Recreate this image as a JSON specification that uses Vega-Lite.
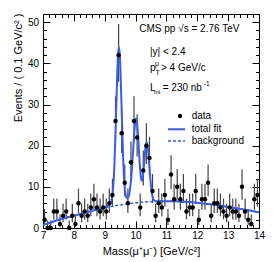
{
  "$schema": "https://vega.github.io/schema/vega-lite/v6.json",
  "width": 216,
  "height": 214,
  "autosize": {"type": "none"},
  "padding": {"left": 43, "top": 14, "right": 14, "bottom": 34},
  "background": "white",
  "config": {
    "view": {"stroke": "black", "strokeWidth": 1},
    "font": "Liberation Sans",
    "text": {"font": "Liberation Sans", "color": "black"},
    "axis": {"font": "Liberation Sans", "labelFont": "Liberation Sans", "titleFont": "Liberation Sans", "grid": false, "domain": false, "tickColor": "black", "tickWidth": 1, "labelColor": "black", "titleColor": "black", "labelFontSize": 10, "titleFontSize": 11, "titleFontWeight": "normal", "labelFlush": false, "labelOverlap": false}
  },
  "datasets": {
    "bins": [
      {"m": 7.05, "n": 2, "lo": 0.71, "hi": 4.64},
      {"m": 7.15, "n": 0, "lo": 0, "hi": 1.84},
      {"m": 7.25, "n": 0, "lo": 0, "hi": 1.84},
      {"m": 7.35, "n": 4, "lo": 2.09, "hi": 7.16},
      {"m": 7.45, "n": 4, "lo": 2.09, "hi": 7.16},
      {"m": 7.55, "n": 1, "lo": 0.17, "hi": 3.3},
      {"m": 7.65, "n": 3, "lo": 1.37, "hi": 5.92},
      {"m": 7.75, "n": 4, "lo": 2.09, "hi": 7.16},
      {"m": 7.85, "n": 0, "lo": 0, "hi": 1.84},
      {"m": 7.95, "n": 3, "lo": 1.37, "hi": 5.92},
      {"m": 8.05, "n": 1, "lo": 0.17, "hi": 3.3},
      {"m": 8.15, "n": 6, "lo": 3.62, "hi": 9.58},
      {"m": 8.25, "n": 3, "lo": 1.37, "hi": 5.92},
      {"m": 8.35, "n": 4, "lo": 2.09, "hi": 7.16},
      {"m": 8.45, "n": 3, "lo": 1.37, "hi": 5.92},
      {"m": 8.55, "n": 5, "lo": 2.84, "hi": 8.38},
      {"m": 8.65, "n": 7, "lo": 4.42, "hi": 10.77},
      {"m": 8.75, "n": 5, "lo": 2.84, "hi": 8.38},
      {"m": 8.85, "n": 4, "lo": 2.09, "hi": 7.16},
      {"m": 8.95, "n": 5, "lo": 2.84, "hi": 8.38},
      {"m": 9.05, "n": 4, "lo": 2.09, "hi": 7.16},
      {"m": 9.15, "n": 6, "lo": 3.62, "hi": 9.58},
      {"m": 9.25, "n": 8, "lo": 5.23, "hi": 11.95},
      {"m": 9.35, "n": 26, "lo": 20.95, "hi": 31.99},
      {"m": 9.45, "n": 42, "lo": 35.53, "hi": 49.6},
      {"m": 9.55, "n": 23, "lo": 18.25, "hi": 28.74},
      {"m": 9.65, "n": 11, "lo": 7.73, "hi": 15.42},
      {"m": 9.75, "n": 6, "lo": 3.62, "hi": 9.58},
      {"m": 9.85, "n": 16, "lo": 12.05, "hi": 21.04},
      {"m": 9.95, "n": 26, "lo": 20.95, "hi": 31.99},
      {"m": 10.05, "n": 22, "lo": 17.35, "hi": 27.65},
      {"m": 10.15, "n": 5, "lo": 2.84, "hi": 8.38},
      {"m": 10.25, "n": 14, "lo": 10.3, "hi": 18.81},
      {"m": 10.35, "n": 20, "lo": 15.57, "hi": 25.46},
      {"m": 10.45, "n": 17, "lo": 12.94, "hi": 22.14},
      {"m": 10.55, "n": 9, "lo": 6.06, "hi": 13.11},
      {"m": 10.65, "n": 3, "lo": 1.37, "hi": 5.92},
      {"m": 10.75, "n": 6, "lo": 3.62, "hi": 9.58},
      {"m": 10.85, "n": 5, "lo": 2.84, "hi": 8.38},
      {"m": 10.95, "n": 8, "lo": 5.23, "hi": 11.95},
      {"m": 11.05, "n": 2, "lo": 0.71, "hi": 4.64},
      {"m": 11.15, "n": 13, "lo": 9.44, "hi": 17.69},
      {"m": 11.25, "n": 7, "lo": 4.42, "hi": 10.77},
      {"m": 11.35, "n": 10, "lo": 6.89, "hi": 14.27},
      {"m": 11.45, "n": 7, "lo": 4.42, "hi": 10.77},
      {"m": 11.55, "n": 9, "lo": 6.06, "hi": 13.11},
      {"m": 11.65, "n": 4, "lo": 2.09, "hi": 7.16},
      {"m": 11.75, "n": 5, "lo": 2.84, "hi": 8.38},
      {"m": 11.85, "n": 5, "lo": 2.84, "hi": 8.38},
      {"m": 11.95, "n": 9, "lo": 6.06, "hi": 13.11},
      {"m": 12.05, "n": 2, "lo": 0.71, "hi": 4.64},
      {"m": 12.15, "n": 7, "lo": 4.42, "hi": 10.77},
      {"m": 12.25, "n": 7, "lo": 4.42, "hi": 10.77},
      {"m": 12.35, "n": 11, "lo": 7.73, "hi": 15.42},
      {"m": 12.45, "n": 3, "lo": 1.37, "hi": 5.92},
      {"m": 12.55, "n": 6, "lo": 3.62, "hi": 9.58},
      {"m": 12.65, "n": 6, "lo": 3.62, "hi": 9.58},
      {"m": 12.75, "n": 5, "lo": 2.84, "hi": 8.38},
      {"m": 12.85, "n": 4, "lo": 2.09, "hi": 7.16},
      {"m": 12.95, "n": 3, "lo": 1.37, "hi": 5.92},
      {"m": 13.05, "n": 5, "lo": 2.84, "hi": 8.38},
      {"m": 13.15, "n": 4, "lo": 2.09, "hi": 7.16},
      {"m": 13.25, "n": 4, "lo": 2.09, "hi": 7.16},
      {"m": 13.35, "n": 3, "lo": 1.37, "hi": 5.92},
      {"m": 13.45, "n": 10, "lo": 6.89, "hi": 14.27},
      {"m": 13.55, "n": 4, "lo": 2.09, "hi": 7.16},
      {"m": 13.65, "n": 2, "lo": 0.71, "hi": 4.64},
      {"m": 13.75, "n": 1, "lo": 0.17, "hi": 3.3},
      {"m": 13.85, "n": 7, "lo": 4.42, "hi": 10.77},
      {"m": 13.95, "n": 8, "lo": 5.23, "hi": 11.95}
    ],
    "fit": [
      {"m": 7.0, "y": 0.7}, {"m": 7.25, "y": 1.35}, {"m": 7.5, "y": 2.0}, {"m": 7.75, "y": 2.5},
      {"m": 8.0, "y": 3.0}, {"m": 8.25, "y": 3.5}, {"m": 8.5, "y": 4.0}, {"m": 8.75, "y": 4.5},
      {"m": 9.0, "y": 5.0}, {"m": 9.1, "y": 5.4}, {"m": 9.2, "y": 6.3}, {"m": 9.24, "y": 7.5},
      {"m": 9.28, "y": 10.5}, {"m": 9.32, "y": 16.6}, {"m": 9.36, "y": 25.7}, {"m": 9.4, "y": 36.0},
      {"m": 9.43, "y": 41.9}, {"m": 9.46, "y": 44.0}, {"m": 9.49, "y": 41.9}, {"m": 9.52, "y": 36.1},
      {"m": 9.56, "y": 25.9}, {"m": 9.6, "y": 16.6}, {"m": 9.64, "y": 10.5}, {"m": 9.68, "y": 8.0},
      {"m": 9.72, "y": 7.3}, {"m": 9.76, "y": 7.4}, {"m": 9.8, "y": 8.5}, {"m": 9.84, "y": 10.7},
      {"m": 9.88, "y": 14.2}, {"m": 9.92, "y": 18.8}, {"m": 9.96, "y": 23.3}, {"m": 10.0, "y": 26.2},
      {"m": 10.02, "y": 26.6}, {"m": 10.04, "y": 26.1}, {"m": 10.07, "y": 23.7}, {"m": 10.1, "y": 20.1},
      {"m": 10.14, "y": 15.1}, {"m": 10.18, "y": 12.0}, {"m": 10.2, "y": 11.5}, {"m": 10.22, "y": 11.8},
      {"m": 10.24, "y": 12.7}, {"m": 10.28, "y": 16.0}, {"m": 10.32, "y": 19.4}, {"m": 10.36, "y": 20.9},
      {"m": 10.4, "y": 19.4}, {"m": 10.44, "y": 15.8}, {"m": 10.48, "y": 11.8}, {"m": 10.52, "y": 8.9},
      {"m": 10.56, "y": 7.3}, {"m": 10.6, "y": 6.7}, {"m": 10.65, "y": 6.5}, {"m": 10.75, "y": 6.5},
      {"m": 11.0, "y": 6.5}, {"m": 11.25, "y": 6.5}, {"m": 11.5, "y": 6.4}, {"m": 11.75, "y": 6.3},
      {"m": 12.0, "y": 6.1}, {"m": 12.25, "y": 5.9}, {"m": 12.5, "y": 5.7}, {"m": 12.75, "y": 5.4},
      {"m": 13.0, "y": 5.1}, {"m": 13.25, "y": 4.8}, {"m": 13.5, "y": 4.5}, {"m": 13.75, "y": 4.2},
      {"m": 14.0, "y": 3.8}
    ],
    "bkg": [
      {"m": 7.0, "y": 0.7}, {"m": 7.25, "y": 1.35}, {"m": 7.5, "y": 2.0}, {"m": 7.75, "y": 2.5},
      {"m": 8.0, "y": 3.0}, {"m": 8.25, "y": 3.5}, {"m": 8.5, "y": 4.0}, {"m": 8.75, "y": 4.5},
      {"m": 9.0, "y": 4.9}, {"m": 9.25, "y": 5.3}, {"m": 9.5, "y": 5.6}, {"m": 9.75, "y": 5.9},
      {"m": 10.0, "y": 6.1}, {"m": 10.25, "y": 6.3}, {"m": 10.5, "y": 6.4}, {"m": 10.75, "y": 6.5},
      {"m": 11.0, "y": 6.5}, {"m": 11.25, "y": 6.5}, {"m": 11.5, "y": 6.4}, {"m": 11.75, "y": 6.3},
      {"m": 12.0, "y": 6.1}, {"m": 12.25, "y": 5.9}, {"m": 12.5, "y": 5.7}, {"m": 12.75, "y": 5.4},
      {"m": 13.0, "y": 5.1}, {"m": 13.25, "y": 4.8}, {"m": 13.5, "y": 4.5}, {"m": 13.75, "y": 4.2},
      {"m": 14.0, "y": 3.8}
    ]
  },
  "resolve": {"axis": {"x": "independent", "y": "independent"}},
  "layer": [
    {
      "data": {"name": "bins"},
      "mark": {"type": "rule", "color": "#444444", "strokeWidth": 1.2},
      "encoding": {
        "x": {"field": "m", "type": "quantitative", "scale": {"domain": [7, 14], "nice": false, "zero": false},
          "axis": {"orient": "bottom", "values": [7,7.2,7.4,7.6,7.8,8,8.2,8.4,8.6,8.8,9,9.2,9.4,9.6,9.8,10,10.2,10.4,10.6,10.8,11,11.2,11.4,11.6,11.8,12,12.2,12.4,12.6,12.8,13,13.2,13.4,13.6,13.8,14],
            "labelExpr": "datum.value % 1 === 0 ? format(datum.value, 'd') : ''",
            "tickSize": {"condition": {"test": "datum.value % 1 === 0", "value": -7}, "value": -3.5},
            "labelPadding": 9,
            "title": "Mass(μ⁺μ⁻) [GeV/c²]", "titleX": 108, "titleY": 26, "titleAlign": "center", "titleBaseline": "alphabetic"}},
        "y": {"field": "lo", "type": "quantitative", "scale": {"domain": [0, 52], "nice": false, "zero": true},
          "axis": {"orient": "left", "values": [0,2,4,6,8,10,12,14,16,18,20,22,24,26,28,30,32,34,36,38,40,42,44,46,48,50],
            "labelExpr": "datum.value % 10 === 0 ? format(datum.value, 'd') : ''",
            "tickSize": {"condition": {"test": "datum.value % 10 === 0", "value": -7}, "value": -3.5},
            "labelPadding": 11.5,
            "title": "Events / ( 0.1 GeV/c² )", "titleX": -22, "titleY": -1, "titleAngle": 270, "titleAlign": "right", "titleBaseline": "alphabetic"}},
        "y2": {"field": "hi"}
      }
    },
    {
      "data": {"name": "bkg"},
      "mark": {"type": "line", "color": "#3a5ce8", "strokeWidth": 1.5, "strokeDash": [3, 2], "interpolate": "monotone"},
      "encoding": {
        "x": {"field": "m", "type": "quantitative", "axis": null},
        "y": {"field": "y", "type": "quantitative", "axis": null}
      }
    },
    {
      "data": {"name": "fit"},
      "mark": {"type": "line", "color": "#3a5ce8", "strokeWidth": 2, "interpolate": "monotone"},
      "encoding": {
        "x": {"field": "m", "type": "quantitative", "axis": null},
        "y": {"field": "y", "type": "quantitative", "axis": null}
      }
    },
    {
      "data": {"name": "bins"},
      "mark": {"type": "circle", "color": "black", "size": 20, "opacity": 1},
      "encoding": {
        "x": {"field": "m", "type": "quantitative",
          "axis": {"orient": "top", "labels": false, "title": null, "values": [7,7.2,7.4,7.6,7.8,8,8.2,8.4,8.6,8.8,9,9.2,9.4,9.6,9.8,10,10.2,10.4,10.6,10.8,11,11.2,11.4,11.6,11.8,12,12.2,12.4,12.6,12.8,13,13.2,13.4,13.6,13.8,14],
            "tickSize": {"condition": {"test": "datum.value % 1 === 0", "value": -7}, "value": -3.5}}},
        "y": {"field": "n", "type": "quantitative",
          "axis": {"orient": "right", "labels": false, "title": null, "values": [0,2,4,6,8,10,12,14,16,18,20,22,24,26,28,30,32,34,36,38,40,42,44,46,48,50],
            "tickSize": {"condition": {"test": "datum.value % 10 === 0", "value": -7}, "value": -3.5}}}
      }
    },
    {
      "data": {"values": [{}]},
      "mark": {"type": "text", "text": "CMS pp √s = 2.76 TeV", "align": "left", "baseline": "alphabetic", "fontSize": 10},
      "encoding": {"x": {"datum": 10.121, "type": "quantitative", "axis": null}, "y": {"datum": 47.56, "type": "quantitative", "axis": null}}
    },
    {
      "data": {"values": [{}]},
      "mark": {"type": "text", "text": "|y| < 2.4", "align": "left", "baseline": "alphabetic", "fontSize": 10},
      "encoding": {"x": {"datum": 10.468, "type": "quantitative", "axis": null}, "y": {"datum": 42.04, "type": "quantitative", "axis": null}}
    },
    {
      "data": {"values": [{}]},
      "mark": {"type": "text", "text": "p", "align": "left", "baseline": "alphabetic", "fontSize": 10},
      "encoding": {"x": {"datum": 10.468, "type": "quantitative", "axis": null}, "y": {"datum": 38.15, "type": "quantitative", "axis": null}}
    },
    {
      "data": {"values": [{}]},
      "mark": {"type": "text", "text": "μ", "align": "left", "baseline": "alphabetic", "fontSize": 7},
      "encoding": {"x": {"datum": 10.63, "type": "quantitative", "axis": null}, "y": {"datum": 39.4, "type": "quantitative", "axis": null}}
    },
    {
      "data": {"values": [{}]},
      "mark": {"type": "text", "text": "T", "align": "left", "baseline": "alphabetic", "fontSize": 7},
      "encoding": {"x": {"datum": 10.645, "type": "quantitative", "axis": null}, "y": {"datum": 37.2, "type": "quantitative", "axis": null}}
    },
    {
      "data": {"values": [{}]},
      "mark": {"type": "text", "text": "> 4 GeV/c", "align": "left", "baseline": "alphabetic", "fontSize": 10},
      "encoding": {"x": {"datum": 10.824, "type": "quantitative", "axis": null}, "y": {"datum": 38.15, "type": "quantitative", "axis": null}}
    },
    {
      "data": {"values": [{}]},
      "mark": {"type": "text", "text": "L", "align": "left", "baseline": "alphabetic", "fontSize": 10},
      "encoding": {"x": {"datum": 10.468, "type": "quantitative", "axis": null}, "y": {"datum": 33.29, "type": "quantitative", "axis": null}}
    },
    {
      "data": {"values": [{}]},
      "mark": {"type": "text", "text": "int", "align": "left", "baseline": "alphabetic", "fontSize": 6},
      "encoding": {"x": {"datum": 10.6, "type": "quantitative", "axis": null}, "y": {"datum": 32.6, "type": "quantitative", "axis": null}}
    },
    {
      "data": {"values": [{}]},
      "mark": {"type": "text", "text": "= 230 nb", "align": "left", "baseline": "alphabetic", "fontSize": 10},
      "encoding": {"x": {"datum": 10.88, "type": "quantitative", "axis": null}, "y": {"datum": 33.29, "type": "quantitative", "axis": null}}
    },
    {
      "data": {"values": [{}]},
      "mark": {"type": "text", "text": "-1", "align": "left", "baseline": "alphabetic", "fontSize": 6.5},
      "encoding": {"x": {"datum": 12.21, "type": "quantitative", "axis": null}, "y": {"datum": 34.5, "type": "quantitative", "axis": null}}
    },
    {
      "data": {"values": [{}]},
      "mark": {"type": "circle", "color": "black", "size": 20, "opacity": 1},
      "encoding": {"x": {"datum": 11.44, "type": "quantitative", "axis": null}, "y": {"datum": 27.22, "type": "quantitative", "axis": null}}
    },
    {
      "data": {"values": [{}]},
      "mark": {"type": "text", "text": "data", "align": "left", "baseline": "middle", "fontSize": 10},
      "encoding": {"x": {"datum": 11.819, "type": "quantitative", "axis": null}, "y": {"datum": 27.22, "type": "quantitative", "axis": null}}
    },
    {
      "data": {"values": [{}]},
      "mark": {"type": "rule", "color": "#3a5ce8", "strokeWidth": 2},
      "encoding": {"x": {"datum": 11.051, "type": "quantitative", "axis": null}, "x2": {"datum": 11.602}, "y": {"datum": 23.99, "type": "quantitative", "axis": null}}
    },
    {
      "data": {"values": [{}]},
      "mark": {"type": "text", "text": "total fit", "align": "left", "baseline": "middle", "fontSize": 10},
      "encoding": {"x": {"datum": 11.819, "type": "quantitative", "axis": null}, "y": {"datum": 23.99, "type": "quantitative", "axis": null}}
    },
    {
      "data": {"values": [{}]},
      "mark": {"type": "rule", "color": "#3a5ce8", "strokeWidth": 1.5, "strokeDash": [3, 2]},
      "encoding": {"x": {"datum": 11.051, "type": "quantitative", "axis": null}, "x2": {"datum": 11.602}, "y": {"datum": 21.14, "type": "quantitative", "axis": null}}
    },
    {
      "data": {"values": [{}]},
      "mark": {"type": "text", "text": "background", "align": "left", "baseline": "middle", "fontSize": 10},
      "encoding": {"x": {"datum": 11.819, "type": "quantitative", "axis": null}, "y": {"datum": 21.14, "type": "quantitative", "axis": null}}
    }
  ]
}
